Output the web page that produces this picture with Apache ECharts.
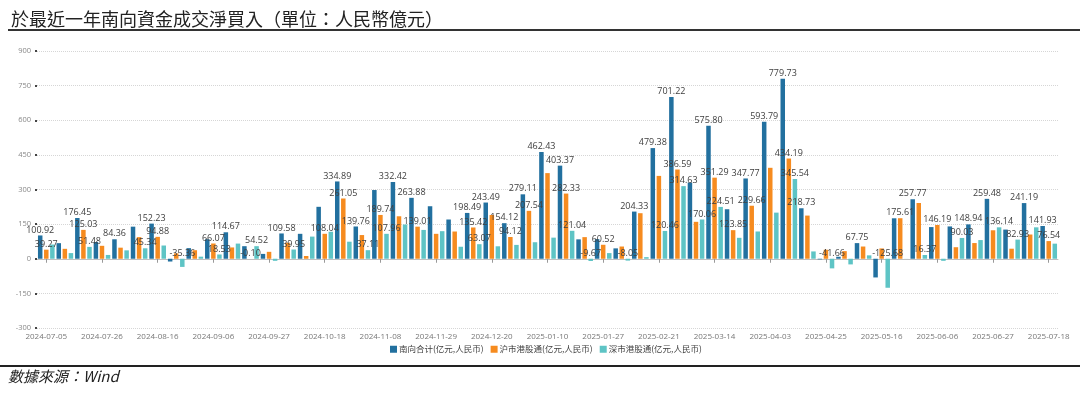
<!DOCTYPE html>
<html><head><meta charset="utf-8">
<script src="https://cdn.jsdelivr.net/npm/echarts@6/dist/echarts.min.js"></script>
<style>html,body{margin:0;padding:0;background:#fff}#c{width:1080px;height:396px}</style>
</head><body><div id="c"></div>
<script>
const categories = ["2024-07-05","2024-07-12","2024-07-19","2024-07-26","2024-08-02","2024-08-09","2024-08-16","2024-08-23","2024-08-30","2024-09-06","2024-09-13","2024-09-20","2024-09-27","2024-10-04","2024-10-11","2024-10-18","2024-10-25","2024-11-01","2024-11-08","2024-11-15","2024-11-22","2024-11-29","2024-12-06","2024-12-13","2024-12-20","2024-12-27","2025-01-03","2025-01-10","2025-01-17","2025-01-24","2025-01-27","2025-02-07","2025-02-14","2025-02-21","2025-02-28","2025-03-07","2025-03-14","2025-03-21","2025-03-28","2025-04-03","2025-04-11","2025-04-18","2025-04-25","2025-04-30","2025-05-09","2025-05-16","2025-05-23","2025-05-30","2025-06-06","2025-06-13","2025-06-20","2025-06-27","2025-07-04","2025-07-11","2025-07-18"];
const seriesNames = ["南向合计(亿元,人民币)","沪市港股通(亿元,人民币)","深市港股通(亿元,人民币)"];
const southTotal = [100.92,67.5,176.45,72.5,84.36,139.0,152.23,-12.0,46.0,84.60,114.67,54.42,21.0,109.58,108.0,225.0,334.89,139.76,297.7,332.42,263.88,227.5,170.0,198.49,243.49,154.12,279.11,462.43,403.37,84.0,85.0,45.0,204.33,479.38,701.22,330.0,575.80,214.5,347.77,593.79,779.73,218.73,-2.7,8.6,67.75,-81.0,175.3,257.77,137.2,140.0,148.94,259.48,126.4,241.19,141.93];
const shanghai = [39.27,43.0,125.03,56.0,48.0,93.7,94.88,23.4,37.0,66.07,49.0,-0.10,30.0,69.6,12.0,108.04,261.05,102.65,189.74,184.0,139.01,108.0,118.0,135.42,189.5,94.12,207.54,371.0,282.33,93.67,60.52,53.0,197.3,358.92,386.59,160.0,351.29,123.85,229.66,394.0,434.19,187.0,39.0,33.0,53.0,44.7,175.61,241.4,146.19,50.0,68.0,123.34,43.5,105.0,76.54];
const shenzhen = [61.65,24.5,51.48,16.5,36.4,45.34,57.35,-35.36,9.0,18.53,65.7,54.52,-9.0,39.95,96.0,117.0,73.84,37.11,107.96,148.4,124.87,119.5,52.0,63.07,54.0,60.0,71.57,91.43,121.04,-9.67,24.5,-8.05,7.0,120.46,314.63,170.06,224.51,90.7,118.11,199.79,345.54,31.7,-41.66,-24.5,14.75,-125.68,-0.31,16.37,-9.0,90.03,80.94,136.14,82.93,136.19,65.39];
const labelShownTotal = [0,2,4,6,10,13,16,17,19,20,23,24,25,26,27,28,32,33,34,36,38,39,40,41,44,47,50,51,53,54];
const labelShownShanghai = [0,2,6,9,11,15,16,18,20,23,25,26,28,30,34,36,37,38,40,46,48,54];
const labelShownShenzhen = [2,5,7,9,11,13,17,18,23,28,29,31,33,34,35,36,40,42,45,47,49,51,52];
const colors = ["#22709f","#f68b1f","#5ec4c5"];

function build(vals, shown){
  return vals.map((v,i)=>({value:v,label:{show:shown.indexOf(i)>=0}}));
}
const chart = echarts.init(document.getElementById('c'));
const labelStyle = {position:'top',distance:1,fontSize:9,color:'#404040',fontFamily:'"Open Sans","Noto Sans",sans-serif',formatter:p=>p.value.toFixed(2)};
chart.setOption({
  animation:false,
  color:colors,
  title:{text:'於最近一年南向資金成交淨買入（單位：人民幣億元）',left:6,top:5,textStyle:{fontFamily:'"Noto Sans CJK TC",serif',fontSize:18,fontWeight:'normal',color:'#222'}},
  graphic:[
    {type:'rect',shape:{x:8,y:29,width:1072,height:2},style:{fill:'#333'}},
    {type:'rect',shape:{x:0,y:365,width:1080,height:2},style:{fill:'#222'}},
    {type:'text',left:8,top:369,style:{text:'數據來源：Wind',fontFamily:'"Noto Sans CJK TC",serif',fontSize:15,fontStyle:'italic',fill:'#222'}}
  ],
  legend:{data:seriesNames,left:390,top:345,itemWidth:7,itemHeight:7,itemGap:7,icon:'rect',textStyle:{fontSize:8.5,color:'#404040',fontFamily:'"Noto Sans CJK SC",sans-serif',padding:[0,0,0,-3]},padding:0},
  grid:{left:37,right:22,top:51,bottom:68},
  xAxis:{type:'category',data:categories,
    axisLine:{show:true,lineStyle:{color:'#bfbfbf'}},
    axisTick:{show:true,alignWithLabel:true,interval:2,length:4,lineStyle:{color:'#999'}},
    axisLabel:{interval:2,fontSize:8,color:'#777',margin:5,fontFamily:'"Open Sans",sans-serif'},
    splitLine:{show:false}},
  yAxis:{type:'value',min:-300,max:900,interval:150,
    axisLine:{show:false},
    axisTick:{show:true,length:2,lineStyle:{color:'#444',width:2}},
    axisLabel:{fontSize:7.5,color:'#888',margin:6,fontFamily:'"Open Sans",sans-serif'},
    splitLine:{show:true,lineStyle:{color:'#d6d6d6',type:'dotted'}}},
  series:[
    {name:seriesNames[0],type:'bar',data:build(southTotal,labelShownTotal),barWidth:4.5,barGap:'35%',label:labelStyle},
    {name:seriesNames[1],type:'bar',data:build(shanghai,labelShownShanghai),barWidth:4.5,barGap:'35%',label:labelStyle},
    {name:seriesNames[2],type:'bar',data:build(shenzhen,labelShownShenzhen),barWidth:4.5,barGap:'35%',label:labelStyle}
  ]
});
</script></body></html>
